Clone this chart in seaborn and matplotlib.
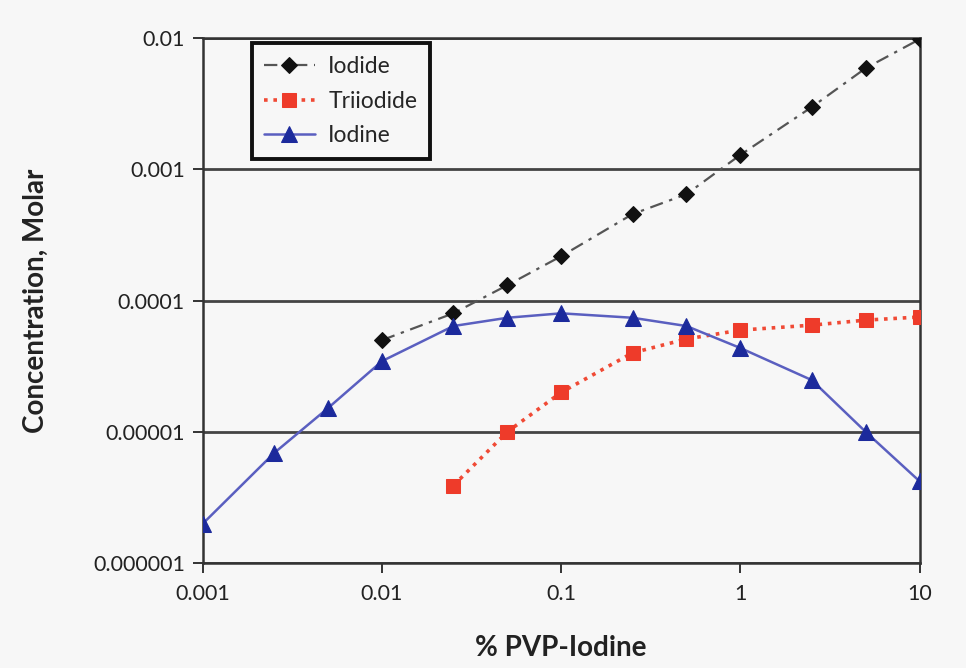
import matplotlib
matplotlib.use("Agg")
import matplotlib.pyplot as plt
import matplotlib.ticker as mticker
import seaborn as sns
import pandas as pd

x_pct = [0.001, 0.0025, 0.005, 0.01, 0.025, 0.05, 0.1, 0.25, 0.5, 1, 2.5, 5, 10]

iodide_x = [0.01, 0.025, 0.05, 0.1, 0.25, 0.5, 1, 2.5, 5, 10]
iodide_y = [5.0e-5, 8.0e-5, 1.31e-4, 2.18e-4, 4.56e-4, 6.47e-4, 1.29e-3, 2.98e-3, 5.9e-3, 9.8e-3]

triiodide_x = [0.025, 0.05, 0.1, 0.25, 0.5, 1, 2.5, 5, 10]
triiodide_y = [3.9e-6, 1.0e-5, 2.0e-5, 4.0e-5, 5.1e-5, 5.96e-5, 6.5e-5, 7.1e-5, 7.5e-5]

iodine_x = x_pct
iodine_y = [2.0e-6, 6.9e-6, 1.52e-5, 3.46e-5, 6.4e-5, 7.4e-5, 8.0e-5, 7.4e-5, 6.4e-5,
            4.35e-5, 2.48e-5, 1.0e-5, 4.2e-6]

x_ticks = [0.001, 0.01, 0.1, 1, 10]
x_tick_labels = ["0.001", "0.01", "0.1", "1", "10"]
y_ticks = [1e-6, 1e-5, 1e-4, 1e-3, 1e-2]
y_tick_labels = ["0.000001", "0.00001", "0.0001", "0.001", "0.01"]

sns.set_theme(style="white")
plt.rcParams['font.family'] = ['Lato', 'DejaVu Sans']

bg = "#f7f7f7"
fig = plt.figure(figsize=(9.66, 6.68), dpi=100, facecolor=bg)
ax = fig.add_axes([0.210, 0.157, 0.742, 0.786])
ax.set_facecolor(bg)

df_iodide = pd.DataFrame({"x": iodide_x, "y": iodide_y})
df_tri = pd.DataFrame({"x": triiodide_x, "y": triiodide_y})
df_iodine = pd.DataFrame({"x": iodine_x, "y": iodine_y})

sns.lineplot(data=df_iodide, x="x", y="y", ax=ax, color="#555555", lw=1.6,
             linestyle=(0, (6, 3, 1.5, 3)), marker="D", markersize=8,
             markerfacecolor="#111111", markeredgecolor="#111111",
             label="Iodide", zorder=4)
sns.lineplot(data=df_tri, x="x", y="y", ax=ax, color="#f04a35", lw=2.6,
             linestyle=(0, (1, 1.6)), marker="s", markersize=10,
             markerfacecolor="#ee3b2a", markeredgecolor="#ee3b2a",
             label="Triiodide", zorder=3)
sns.lineplot(data=df_iodine, x="x", y="y", ax=ax, color="#5a5fc0", lw=1.8,
             linestyle="-", marker="^", markersize=11,
             markerfacecolor="#1c2a9c", markeredgecolor="#1c2a9c",
             label="Iodine", zorder=5)

ax.set_xscale("log")
ax.set_yscale("log")
ax.set_xlim(0.001, 10)
ax.set_ylim(1e-6, 1e-2)

ax.xaxis.set_major_locator(mticker.FixedLocator(x_ticks))
ax.xaxis.set_major_formatter(mticker.FixedFormatter(x_tick_labels))
ax.xaxis.set_minor_locator(mticker.NullLocator())
ax.yaxis.set_major_locator(mticker.FixedLocator(y_ticks))
ax.yaxis.set_major_formatter(mticker.FixedFormatter(y_tick_labels))
ax.yaxis.set_minor_locator(mticker.NullLocator())

ax.yaxis.grid(True, color="#444444", lw=2.0)
ax.xaxis.grid(False)
ax.set_axisbelow(True)

for side in ["left", "right", "bottom", "top"]:
    ax.spines[side].set_visible(True)
    ax.spines[side].set_color("#333333")
    ax.spines[side].set_linewidth(1.8)

ax.tick_params(axis="x", direction="out", length=7, width=1.4, color="#333333",
               labelsize=15.5, labelcolor="#222222", pad=8, bottom=True)
ax.tick_params(axis="y", direction="out", length=7, width=1.4, color="#333333",
               labelsize=15.5, labelcolor="#222222", pad=6, left=True)

ax.set_xlabel("% PVP-Iodine", fontsize=20, fontweight="bold", color="#222222", labelpad=22)
ax.set_ylabel("Concentration, Molar", fontsize=20, fontweight="bold", color="#222222", labelpad=32)

leg = ax.legend(loc="upper left", bbox_to_anchor=(0.068, 0.99), borderaxespad=0,
                frameon=True, fancybox=False, fontsize=16.5, handlelength=2.2,
                borderpad=0.55, labelspacing=0.6, handletextpad=0.6)
leg.get_frame().set_edgecolor("#111111")
leg.get_frame().set_linewidth(2.8)
leg.get_frame().set_facecolor(bg)
leg.get_frame().set_alpha(1)

fig.savefig("out.png", dpi=100, facecolor=bg)
